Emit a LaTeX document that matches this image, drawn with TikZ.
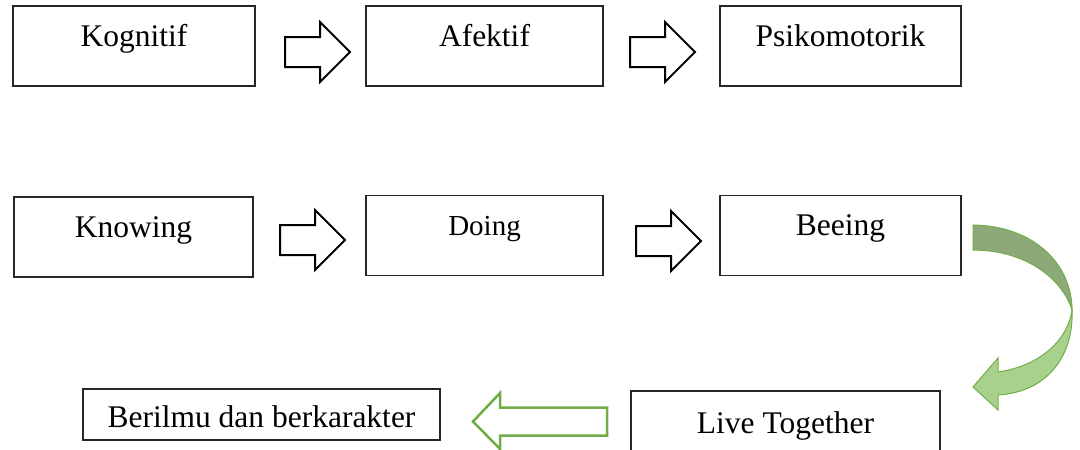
\documentclass[tikz,border=0pt]{standalone}
\usepackage{fontspec}
\setmainfont{Liberation Serif}
\definecolor{accgreen}{RGB}{112,173,71}
\definecolor{backband}{RGB}{141,168,121}
\definecolor{frontband}{RGB}{169,209,142}
\tikzset{box/.style={draw=black!85, line width=1.2pt, inner sep=0pt, text height=40pt, text depth=40pt,
    minimum width=242pt, font=\fontsize{31.5}{36}\selectfont},
  fatarrow/.style={draw, line width=2pt, fill=white, line join=miter},
  greenarrow/.style={draw=accgreen, line width=2.5pt, fill=white, line join=miter}}

\begin{document}
\begin{tikzpicture}[x=1pt,y=-1pt]
\useasboundingbox (0,0) rectangle (1080,450);
% first row
\node[box] (kog) at (134,46) {Kognitif};
\node[box, minimum width=237pt] (afe) at (484.5,46) {Afektif};
\node[box, minimum width=241pt] (psi) at (840.5,46) {Psikomotorik};
% second row
\node[box, minimum width=239pt] (kno) at (133.5,237) {Knowing};
\node[box, minimum width=237pt, font=\fontsize{29}{33}\selectfont] (doi) at (484.5,235.5) {Doing};
\node[box, minimum width=241pt] (bee) at (840.5,235.5) {Beeing};
% last row
\node[box, minimum width=309pt, text height=42pt, text depth=19pt] (liv) at (785.5,421.5) {Live Together};
\node[box, minimum width=357pt, text height=38pt, text depth=13pt] (ber) at (261.5,414.5) {Berilmu dan berkarakter};
% block arrows between the boxes
\foreach \x/\y in {285/52, 630/52, 280/240, 636/241}
{
  \draw[fatarrow] (\x,\y-15) -- ++(35,0) -- ++(0,-15) -- ++(30,30) -- ++(-30,30) -- ++(0,-15) -- ++(-35,0) -- cycle;
}
% curved arrow from Beeing down to Live Together
\coordinate (turn) at (1072,310);
\draw[draw=accgreen, line width=1pt, fill=backband] (973,225) .. controls (1035,226) and (1072,265) .. (turn)
  .. controls (1062,278) and (1025,250) .. (973,250) -- cycle;
\draw[draw=accgreen, line width=1pt, fill=frontband, line join=miter] (turn) .. controls (1068,340) and (1040,366) .. (998,372)
  -- (998,358) -- (973,387) -- (998,410) -- (998,395) .. controls (1048,392) and (1074,355) .. (turn) -- cycle;
% arrow from Live Together to Berilmu
\draw[greenarrow] (607,407.5) -- (500,407.5) -- (500,393) -- (473,421.5) -- (500,449) -- (500,435.5) -- (607,435.5) -- cycle;
\end{tikzpicture}
\end{document}
